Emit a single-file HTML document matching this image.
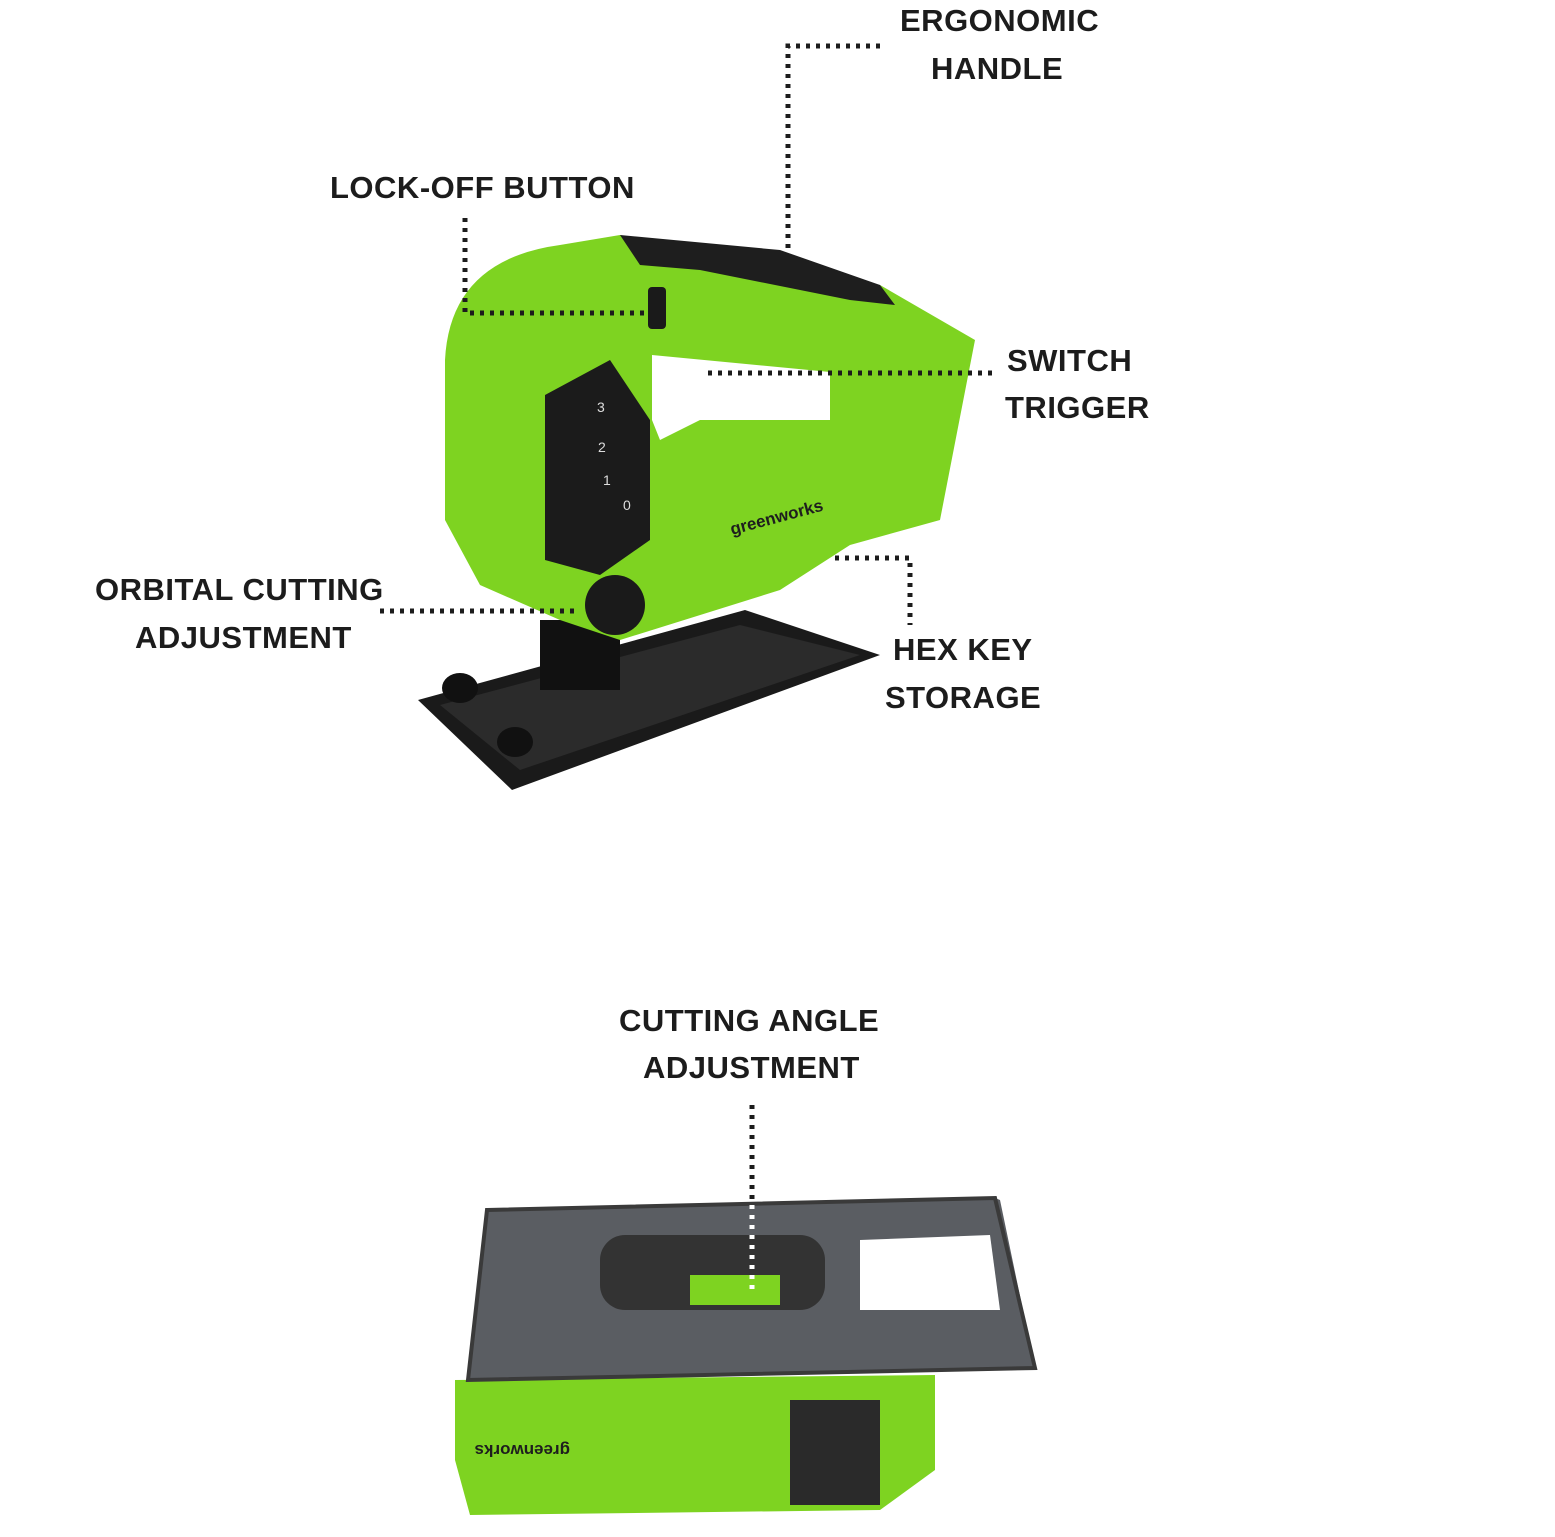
<!DOCTYPE html>
<html><head><meta charset="utf-8"><style>
html,body{margin:0;padding:0;background:#fff;}
body{width:1555px;height:1537px;position:relative;overflow:hidden;font-family:"Liberation Sans",sans-serif;}
.t{position:absolute;font-weight:bold;font-size:31px;color:#1c1c1c;line-height:48px;white-space:nowrap;letter-spacing:0.5px}
</style></head><body>
<svg width="1555" height="1537" style="position:absolute;left:0;top:0">
<!-- top jigsaw: base plate -->
<polygon points="418,700 745,610 880,655 512,790" fill="#1a1a1a"/>
<polygon points="440,705 740,625 860,655 520,770" fill="#2b2b2b"/>
<rect x="540" y="620" width="80" height="70" fill="#111"/>
<ellipse cx="460" cy="688" rx="18" ry="15" fill="#111"/>
<ellipse cx="515" cy="742" rx="18" ry="15" fill="#111"/>
<!-- body -->
<path d="M445,360 Q450,260 560,245 L620,235 L880,285 L975,340 L940,520 L850,545 L780,590 L620,640 L560,620 L480,585 L445,520 Z" fill="#7ed321"/>
<path d="M620,235 L780,250 L880,285 L895,305 L850,300 L700,270 L640,265 Z" fill="#1e1e1e"/>
<path d="M652,355 L830,372 L830,420 L700,420 L660,440 L652,420 Z" fill="#fff"/>
<path d="M545,395 L610,360 L650,420 L650,540 L600,575 L545,560 Z" fill="#1b1b1b"/>
<text x="597" y="412" font-size="14" fill="#ddd" font-family="Liberation Sans">3</text>
<text x="598" y="452" font-size="14" fill="#ddd" font-family="Liberation Sans">2</text>
<text x="603" y="485" font-size="14" fill="#ddd" font-family="Liberation Sans">1</text>
<text x="623" y="510" font-size="14" fill="#ddd" font-family="Liberation Sans">0</text>
<text x="732" y="535" font-size="17" fill="#1e1e1e" font-weight="bold" transform="rotate(-15 732 535)" font-family="Liberation Sans">greenworks</text>
<circle cx="615" cy="605" r="30" fill="#1a1a1a"/>
<rect x="648" y="287" width="18" height="42" rx="4" fill="#1a1a1a"/>
<!-- bottom jigsaw -->
<path d="M455,1380 L935,1375 L935,1470 L880,1510 L470,1515 L455,1460 Z" fill="#7ed321"/>
<rect x="790" y="1400" width="90" height="105" fill="#2a2a2a"/>
<polygon points="487,1210 995,1198 1000,1200 1035,1368 468,1380" fill="#5a5d62"/>
<polygon points="487,1210 995,1198 1035,1368 468,1380" fill="none" stroke="#3a3a3a" stroke-width="4"/>
<rect x="600" y="1235" width="225" height="75" rx="25" fill="#333"/>
<rect x="690" y="1275" width="90" height="30" fill="#7ed321"/>
<path d="M860,1240 L990,1235 L1000,1310 L860,1310 Z" fill="#fff"/>
<text x="710" y="1455" font-size="17" fill="#1e1e1e" font-weight="bold" transform="rotate(180 640 1450)" font-family="Liberation Sans">greenworks</text>
<!-- dotted leaders -->
<g stroke="#1c1c1c" stroke-width="5" stroke-dasharray="4 6" fill="none" stroke-linecap="butt">
<path d="M880,46 L788,46 L788,250"/>
<path d="M465,218 L465,313 L648,313"/>
<path d="M708,373 L996,373"/>
<path d="M380,611 L580,611"/>
<path d="M835,558 L910,558 L910,625"/>
<path d="M752,1105 L752,1200"/>
</g>
<path d="M752,1205 L752,1295" stroke="#fff" stroke-width="5" stroke-dasharray="4 6"/>
</svg>
<div class="t" style="left:900px;top:-3px">ERGONOMIC</div>
<div class="t" style="left:931px;top:45px">HANDLE</div>
<div class="t" style="left:330px;top:164px">LOCK-OFF BUTTON</div>
<div class="t" style="left:1007px;top:337px">SWITCH</div>
<div class="t" style="left:1005px;top:384px">TRIGGER</div>
<div class="t" style="left:95px;top:566px">ORBITAL CUTTING</div>
<div class="t" style="left:135px;top:614px">ADJUSTMENT</div>
<div class="t" style="left:893px;top:626px">HEX KEY</div>
<div class="t" style="left:885px;top:674px">STORAGE</div>
<div class="t" style="left:619px;top:997px">CUTTING ANGLE</div>
<div class="t" style="left:643px;top:1044px">ADJUSTMENT</div>
</body></html>
